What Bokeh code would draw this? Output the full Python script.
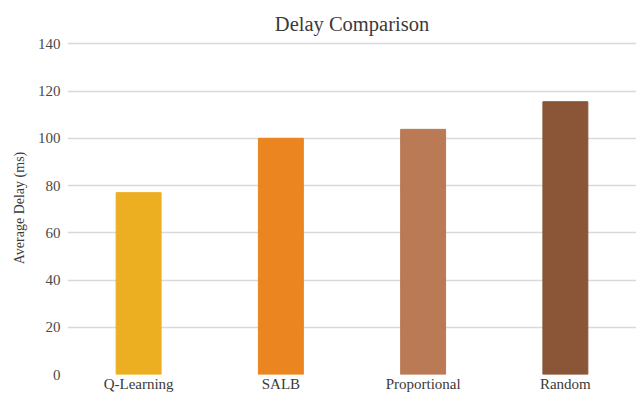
from bokeh.plotting import figure
from bokeh.models import ColumnDataSource, Range1d, FixedTicker
from bokeh.embed import file_html
from bokeh.resources import INLINE

methods = ["Q-Learning", "SALB", "Proportional", "Random"]
avg_delay = [77, 100, 103.8, 115.5]
bar_colors = ["#EDAF22", "#EB851F", "#B97A55", "#8B5537"]
y_ticks = [0, 20, 40, 60, 80, 100, 120, 140]

SERIF = "Liberation Serif"

source = ColumnDataSource(data=dict(method=methods, delay=avg_delay, color=bar_colors))

p = figure(
    x_range=methods,
    y_range=Range1d(0, 141),
    width=636,
    height=394,
    output_backend="svg",
    toolbar_location=None,
    min_border_left=67,
    min_border_right=0,
    min_border_top=41,
    min_border_bottom=18,
    outline_line_color=None,
    background_fill_color="white",
    border_fill_color="white",
)

p.vbar(x="method", top="delay", width=0.316, fill_color="color",
       line_color="color", source=source)

p.title.text = "Delay Comparison"
p.title.align = "center"
p.title.text_font = SERIF
p.title.text_font_size = "20.5px"
p.title.text_font_style = "normal"
p.title.text_color = "#3A3A3A"
p.title.standoff = 13

# y axis
p.yaxis.ticker = FixedTicker(ticks=y_ticks)
p.yaxis.axis_line_color = None
p.yaxis.major_tick_line_color = None
p.yaxis.minor_tick_line_color = None
p.yaxis.major_tick_out = 0
p.yaxis.major_tick_in = 0
p.yaxis.minor_tick_out = 0
p.yaxis.major_label_text_font = SERIF
p.yaxis.major_label_text_font_size = "15px"
p.yaxis.major_label_text_color = "#4A4A4A"
p.yaxis.major_label_standoff = 7
p.yaxis.axis_label = "Average Delay (ms)"
p.yaxis.axis_label_text_font = SERIF
p.yaxis.axis_label_text_font_size = "14px"
p.yaxis.axis_label_text_font_style = "normal"
p.yaxis.axis_label_text_color = "#3A3A3A"
p.yaxis.axis_label_standoff = 8

# x axis: category names under each bar
p.xaxis.axis_line_color = None
p.xaxis.major_tick_line_color = None
p.xaxis.minor_tick_line_color = None
p.xaxis.major_tick_out = 0
p.xaxis.major_tick_in = 0
p.xaxis.major_label_text_font = SERIF
p.xaxis.major_label_text_font_size = "15px"
p.xaxis.major_label_text_color = "#3A3A3A"
p.xaxis.major_label_standoff = 1

p.xgrid.grid_line_color = None
p.ygrid.grid_line_color = "#D9D9D9"
p.ygrid.grid_line_width = 1.3

open("out.html", "w").write(file_html(p, INLINE))
